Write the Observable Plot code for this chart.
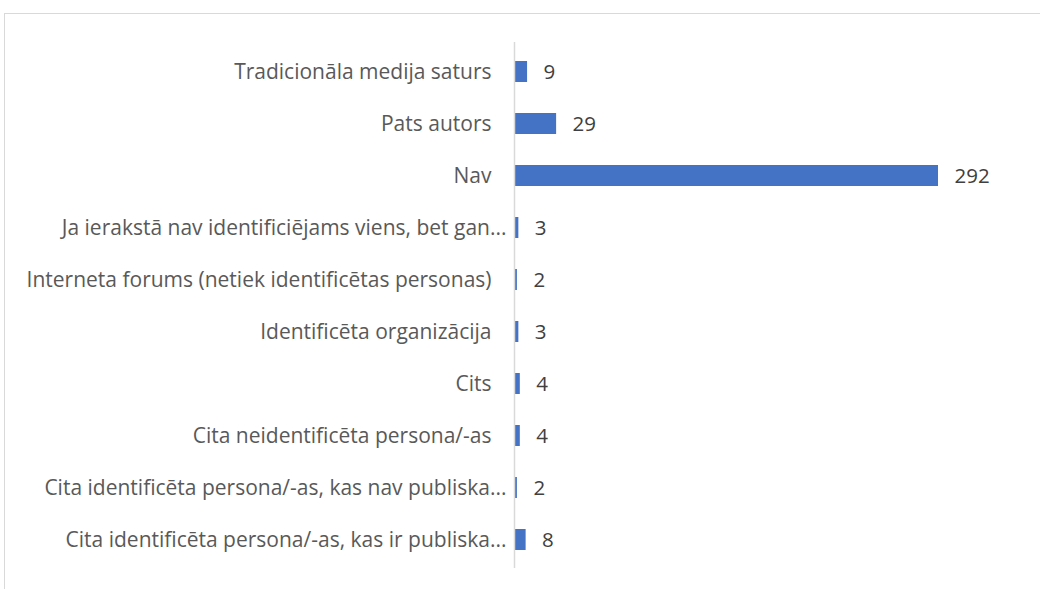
<!DOCTYPE html>
<html>
<head>
<meta charset="utf-8">
<script src="https://cdn.jsdelivr.net/npm/d3@7"></script>
<script src="https://cdn.jsdelivr.net/npm/@observablehq/plot@0.6"></script>
<style>
  html, body { margin: 0; padding: 0; background: #fff; }
  #wrap { position: relative; width: 1040px; height: 589px; overflow: hidden; }
  #frame { position: absolute; left: 4px; top: 13px; width: 1100px; height: 700px; border: 1px solid #d9d9d9; box-sizing: border-box; }
  #chart { position: absolute; left: 0; top: 0; }
</style>
</head>
<body>
<div id="wrap"><div id="frame"></div><div id="chart"></div></div>
<script>
const categories = [
  "Tradicionāla medija saturs",
  "Pats autors",
  "Nav",
  "Ja ierakstā nav identificiējams viens, bet gan...",
  "Interneta forums (netiek identificētas personas)",
  "Identificēta organizācija",
  "Cits",
  "Cita neidentificēta persona/-as",
  "Cita identificēta persona/-as, kas nav publiska...",
  "Cita identificēta persona/-as, kas ir publiska..."
];
const values = [9, 29, 292, 3, 2, 3, 4, 4, 2, 8];

const data = categories.map((c, i) => ({category: c, value: values[i]}));
const truncated = categories.filter(c => c.endsWith("..."));
const full = categories.filter(c => !c.endsWith("..."));

const chart = Plot.plot({
  width: 1040,
  height: 589,
  marginLeft: 514,
  marginRight: 102,
  marginTop: 42,
  marginBottom: 21,
  style: {fontFamily: "'Open Sans', sans-serif", fontSize: "21px", background: "transparent"},
  x: {domain: [0, 292], axis: null},
  y: {domain: categories, paddingInner: 0.6, paddingOuter: 0.3, axis: null},
  marks: [
    Plot.barX(data, {x: "value", y: "category", fill: "#4472C4"}),
    Plot.ruleX([0], {stroke: "#d9d9d9", strokeWidth: 1.5}),
    Plot.text(data, {x: "value", y: "category", text: d => String(d.value), textAnchor: "start", dx: 16, fill: "#404040", fontSize: 20.5}),
    Plot.axisY(full, {tickSize: 0, tickPadding: 23, fill: "#595959", fontSize: 21, label: null}),
    Plot.axisY(truncated, {tickSize: 0, tickPadding: 8, fill: "#595959", fontSize: 21, label: null})
  ]
});
document.getElementById("chart").appendChild(chart);
</script>
</body>
</html>
